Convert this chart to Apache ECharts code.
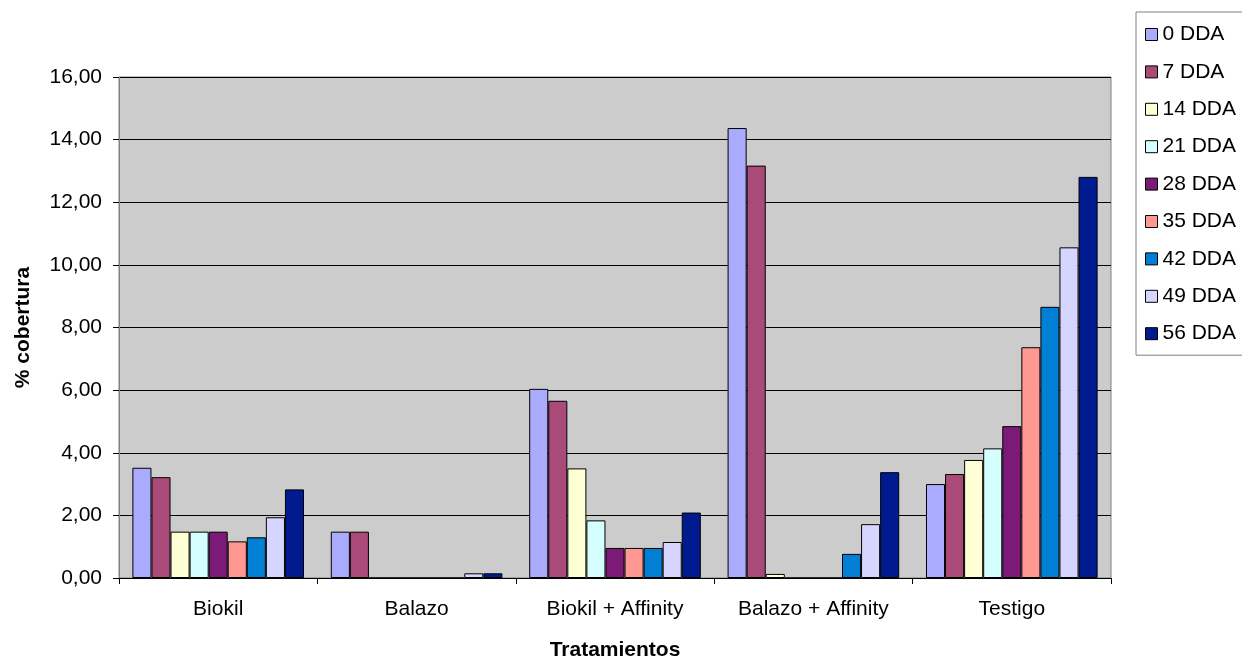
<!DOCTYPE html>
<html>
<head>
<meta charset="utf-8">
<script src="https://cdn.jsdelivr.net/npm/echarts@6/dist/echarts.min.js"></script>
<style>
  html, body { margin: 0; padding: 0; background: #ffffff; }
  #chart { width: 1242px; height: 659px; }
</style>
</head>
<body>
<div id="chart"></div>
<script>
// Treatments on the category axis
const categories = ['Biokil', 'Balazo', 'Biokil + Affinity', 'Balazo + Affinity', 'Testigo'];

// Ground cover (%) per sampling day after application
const dda0  = [3.52, 1.48, 6.04, 14.37, 3.00];
const dda7  = [3.22, 1.48, 5.66, 13.17, 3.32];
const dda14 = [1.48, 0,    3.50, 0.13,  3.77];
const dda21 = [1.48, 0,    1.84, 0,     4.14];
const dda28 = [1.48, 0,    0.96, 0,     4.85];
const dda35 = [1.17, 0,    0.96, 0,     7.37];
const dda42 = [1.30, 0,    0.96, 0.77,  8.66];
const dda49 = [1.94, 0.15, 1.15, 1.72,  10.56];
const dda56 = [2.83, 0.15, 2.09, 3.38,  12.81];

const seriesNames = ['0 DDA', '7 DDA', '14 DDA', '21 DDA', '28 DDA', '35 DDA', '42 DDA', '49 DDA', '56 DDA'];
const seriesValues = [dda0, dda7, dda14, dda21, dda28, dda35, dda42, dda49, dda56];
const seriesColors = ['#AAAAFF', '#A94A78', '#FFFFD5', '#D5FFFF', '#7B1A77', '#FF9893', '#007FD5', '#D5D5FF', '#001A90'];

const FONT = 'Liberation Sans, Arial, sans-serif';
const FS = 21;

const chart = echarts.init(document.getElementById('chart'), null, { renderer: 'canvas' });

const series = seriesNames.map((name, i) => ({
  name: name,
  type: 'bar',
  data: seriesValues[i],
  barGap: '0%',
  barCategoryGap: '13.5%',
  itemStyle: { color: seriesColors[i], borderColor: '#000000', borderWidth: 1 },
  emphasis: { disabled: true },
  animation: false
}));

chart.setOption({
  animation: false,
  textStyle: { fontFamily: FONT },
  grid: {
    left: 119, right: 131, top: 77, bottom: 81,
    outerBoundsMode: 'none',
    containLabel: false,
    show: true, backgroundColor: '#CCCCCC', borderColor: '#808080', borderWidth: 1
  },
  legend: {
    orient: 'vertical',
    left: 1136, top: 12,
    padding: [12, 40, 11, 9],
    itemGap: 16.4,
    itemWidth: 12, itemHeight: 12,
    itemTextGap: 6,
    icon: 'rect',
    borderColor: '#808080', borderWidth: 1,
    backgroundColor: '#ffffff',
    textStyle: { fontFamily: FONT, fontSize: FS, color: '#000000', lineHeight: 21 },
    data: seriesNames.map((n, i) => ({ name: n, itemStyle: { color: seriesColors[i], borderColor: '#000', borderWidth: 1 } }))
  },
  xAxis: {
    type: 'category',
    data: categories,
    name: 'Tratamientos',
    nameLocation: 'middle',
    nameGap: 62,
    nameTextStyle: { fontFamily: FONT, fontSize: FS, fontWeight: 'bold', color: '#000' },
    axisLine: { lineStyle: { color: '#000000', width: 1 } },
    axisTick: { show: true, length: 6, lineStyle: { color: '#000' } },
    axisLabel: { fontFamily: FONT, fontSize: FS, color: '#000', margin: 21 },
    splitLine: { show: false }
  },
  yAxis: {
    type: 'value',
    min: 0, max: 16, interval: 2,
    name: '% cobertura',
    nameLocation: 'middle',
    nameGap: 85,
    nameTextStyle: { fontFamily: FONT, fontSize: FS, fontWeight: 'bold', color: '#000' },
    axisLine: { show: true, lineStyle: { color: '#808080', width: 1 } },
    axisTick: { show: true, length: 6, lineStyle: { color: '#000' } },
    axisLabel: {
      fontFamily: FONT, fontSize: FS, color: '#000', margin: 17,
      formatter: v => v.toFixed(2).replace('.', ',')
    },
    splitLine: { show: true, lineStyle: { color: '#000000', width: 1 } }
  },
  series: series
});
</script>
</body>
</html>
